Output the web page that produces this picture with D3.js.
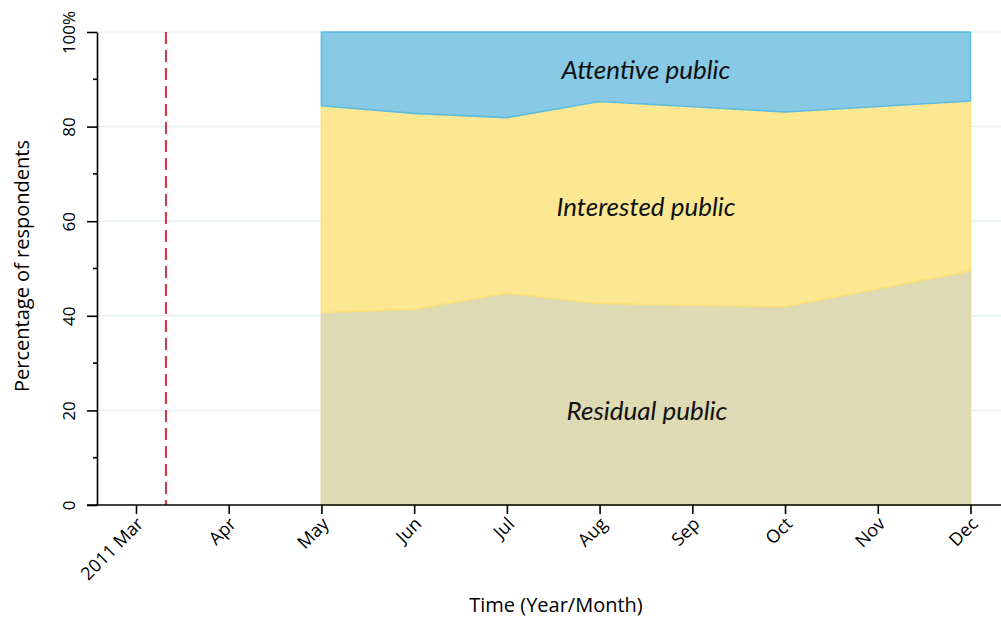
<!DOCTYPE html>
<html>
<head>
<meta charset="utf-8">
<script src="https://cdn.jsdelivr.net/npm/d3@7"></script>
<style>
  html, body { margin: 0; padding: 0; background: #fff; }
  svg { display: block; }
</style>
</head>
<body>
<svg id="chart" width="1001" height="618"></svg>
<script>
// ---- data ----
// month index: 0 = Jan 2011
const months = [4, 5, 6, 7, 9, 11];          // May, Jun, Jul, Aug, Oct, Dec
const residual   = [40.7, 41.4, 44.8, 42.6, 41.9, 49.5];
const interested = [43.7, 41.4, 37.1, 42.7, 41.2, 35.9];
const attentive  = [15.6, 17.2, 18.1, 14.7, 16.9, 14.6];
const seriesNames = ["Residual public", "Interested public", "Attentive public"];
const xTickValues = [2, 3, 4, 5, 6, 7, 8, 9, 10, 11];
const xTickLabels = ["2011 Mar", "Apr", "May", "Jun", "Jul", "Aug", "Sep", "Oct", "Nov", "Dec"];
const yTickValues = [0, 20, 40, 60, 80, 100];
const yTickLabels = ["0", "20", "40", "60", "80", "100%"];
const yMinorTicks = [10, 30, 50, 70, 90];
const eventMonth = 2 + 10 / 31;               // 11 March 2011

// ---- layout ----
const svg = d3.select("#chart");
const pLeft = 97, pRight = 1001, pTop = 32, pBottom = 505;
const pxPerMonth = 92.72;
const x = d3.scaleLinear()
  .domain([2 - (136 - pLeft) / pxPerMonth, 2 + (pRight - 136) / pxPerMonth])
  .range([pLeft, pRight]);
const y = d3.scaleLinear().domain([0, 100]).range([pBottom, pTop]);

const rows = months.map((m, i) => ({
  m: m,
  "Residual public": residual[i],
  "Interested public": interested[i],
  "Attentive public": attentive[i]
}));
const stacked = d3.stack().keys(seriesNames)(rows);

const fills   = {"Residual public": "#dedab3", "Interested public": "#fce892", "Attentive public": "#88c9e6"};
const strokes = {"Residual public": "#dcd7ac", "Interested public": "#fde177", "Attentive public": "#5bbde3"};

// gridlines
svg.append("g").selectAll("line").data(yTickValues.filter(v => v > 0)).join("line")
  .attr("x1", pLeft).attr("x2", pRight)
  .attr("y1", d => y(d)).attr("y2", d => y(d))
  .attr("stroke", "#e6f0f1").attr("stroke-width", 1.5);

// areas
const area = d3.area()
  .x(d => x(d.data.m))
  .y0(d => y(d[0]))
  .y1(d => y(d[1]));

svg.append("g").selectAll("path").data(stacked).join("path")
  .attr("d", d => area(d) + "Z")
  .attr("fill", d => fills[d.key])
  .attr("stroke", d => strokes[d.key])
  .attr("stroke-width", 1.6)
  .attr("stroke-linejoin", "round");

// series labels
const labelPos = {
  "Attentive public":  [646, 79],
  "Interested public": [646, 216],
  "Residual public":   [647, 420]
};
svg.append("g").selectAll("text").data(seriesNames).join("text")
  .attr("x", d => labelPos[d][0])
  .attr("y", d => labelPos[d][1])
  .attr("text-anchor", "middle")
  .attr("font-family", "Lato, 'Open Sans', sans-serif")
  .attr("font-style", "italic")
  .attr("font-size", 26)
  .attr("fill", "#111")
  .text(d => d);

// event line
svg.append("line")
  .attr("x1", x(eventMonth)).attr("x2", x(eventMonth))
  .attr("y1", y(100)).attr("y2", y(0))
  .attr("stroke", "#d6303b").attr("stroke-width", 2)
  .attr("stroke-dasharray", "12,6");

const tickFont = "'Open Sans', 'Noto Sans', sans-serif";

// x axis
const xAxis = d3.axisBottom(x)
  .tickValues(xTickValues)
  .tickFormat((d, i) => xTickLabels[i])
  .tickSize(9)
  .tickSizeOuter(0);
const gx = svg.append("g").attr("transform", `translate(0,${pBottom})`).call(xAxis);
gx.select(".domain").attr("d", `M${pLeft - 10},0H${pRight}`).attr("stroke", "#000").attr("stroke-width", 1.6);
gx.selectAll(".tick line").attr("stroke", "#000").attr("stroke-width", 1.6);
gx.selectAll(".tick text")
  .attr("x", 0).attr("y", 0).attr("dy", 0)
  .attr("text-anchor", "end")
  .attr("transform", "translate(8,20) rotate(-45)")
  .attr("font-family", tickFont).attr("font-size", 18).attr("fill", "#000");

// y axis
const yAxis = d3.axisLeft(y)
  .tickValues(yTickValues)
  .tickFormat((d, i) => yTickLabels[i])
  .tickSize(10)
  .tickSizeOuter(0);
const gy = svg.append("g").attr("transform", `translate(${pLeft},0)`).call(yAxis);
gy.select(".domain").attr("stroke", "#000").attr("stroke-width", 1.6);
gy.selectAll(".tick text")
  .attr("x", 0).attr("dy", 0)
  .attr("text-anchor", "middle")
  .attr("transform", "translate(-22,0) rotate(-90)")
  .attr("font-family", tickFont).attr("font-size", 17).attr("fill", "#000");
gy.selectAll(".tick line").attr("stroke", "#000").attr("stroke-width", 1.6);

// minor y ticks
svg.append("g").selectAll("line").data(yMinorTicks).join("line")
  .attr("x1", pLeft - 4).attr("x2", pLeft)
  .attr("y1", d => y(d)).attr("y2", d => y(d))
  .attr("stroke", "#000").attr("stroke-width", 1.6);

// axis titles
svg.append("text")
  .attr("transform", "translate(29,266) rotate(-90)")
  .attr("text-anchor", "middle")
  .attr("font-family", tickFont).attr("font-size", 20).attr("fill", "#000")
  .text("Percentage of respondents");
svg.append("text")
  .attr("x", 556).attr("y", 612)
  .attr("text-anchor", "middle")
  .attr("font-family", tickFont).attr("font-size", 20).attr("fill", "#000")
  .text("Time (Year/Month)");
</script>
</body>
</html>
